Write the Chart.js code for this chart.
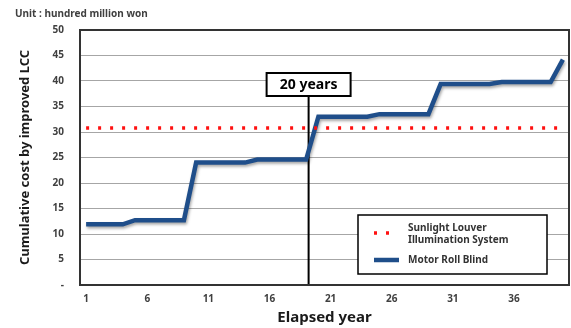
<!DOCTYPE html>
<html>
<head>
<meta charset="utf-8">
<script src="https://cdn.jsdelivr.net/npm/chart.js@4"></script>
<style>
  html, body { margin: 0; padding: 0; background: #fff; }
  #wrap { width: 571px; height: 328px; }
</style>
</head>
<body>
<div id="wrap"><canvas id="lcc-chart" width="571" height="328"></canvas></div>
<script>
// elapsed years 1..40
var years = [];
for (var y = 1; y <= 40; y++) years.push(String(y));

var louverLabel = "Sunlight Louver Illumination System";
var louverCost = [30.8, 30.8, 30.8, 30.8, 30.8, 30.8, 30.8, 30.8, 30.8, 30.8,
                  30.8, 30.8, 30.8, 30.8, 30.8, 30.8, 30.8, 30.8, 30.8, 30.8,
                  30.8, 30.8, 30.8, 30.8, 30.8, 30.8, 30.8, 30.8, 30.8, 30.8,
                  30.8, 30.8, 30.8, 30.8, 30.8, 30.8, 30.8, 30.8, 30.8, 30.8];

var blindLabel = "Motor Roll Blind";
var blindCost = [11.9, 11.9, 11.9, 11.9, 12.7, 12.7, 12.7, 12.7, 12.7, 24.0,
                 24.0, 24.0, 24.0, 24.0, 24.6, 24.6, 24.6, 24.6, 24.6, 33.0,
                 33.0, 33.0, 33.0, 33.0, 33.5, 33.5, 33.5, 33.5, 33.5, 39.4,
                 39.4, 39.4, 39.4, 39.4, 39.8, 39.8, 39.8, 39.8, 39.8, 44.2];

var markerYear = 19.2;          // where the "20 years" line sits
var markerText = "20 years";
var unitText = "Unit : hundred million won";

var FONT = "'Noto Sans', 'DejaVu Sans', sans-serif";

// frame, unit note, 20-year marker and legend box
var decorations = {
    id: "decorations",
    beforeDatasetsDraw(chart) {
        var ctx = chart.ctx;
        var xs = chart.scales.x;
        var area = chart.chartArea;
        var i = Math.floor(markerYear) - 1;
        var p0 = xs.getPixelForValue(i);
        var p1 = xs.getPixelForValue(i + 1);
        var mx = p0 + (markerYear - 1 - i) * (p1 - p0);
        ctx.save();
        ctx.strokeStyle = "#000";
        ctx.lineWidth = 2;
        ctx.beginPath();
        ctx.moveTo(mx, 90);
        ctx.lineTo(mx, area.bottom);
        ctx.stroke();
        ctx.restore();
        chart.$markerX = mx;
    },
    beforeDatasetDraw(chart, args) {
        if (args.index === 1) {
            var ctx = chart.ctx;
            ctx.save();
            ctx.shadowColor = "rgba(0,0,0,0.35)";
            ctx.shadowBlur = 3;
            ctx.shadowOffsetX = 1;
            ctx.shadowOffsetY = 2;
        }
    },
    afterDatasetDraw(chart, args) {
        if (args.index === 1) chart.ctx.restore();
    },
    afterDraw(chart) {
        var ctx = chart.ctx;
        var area = chart.chartArea;
        ctx.save();

        // plot frame
        ctx.strokeStyle = "#333";
        ctx.lineWidth = 2;
        ctx.strokeRect(area.left, area.top, area.right - area.left, area.bottom - area.top);

        // unit note
        ctx.fillStyle = "#404040";
        ctx.font = "bold 10px " + FONT;
        ctx.textBaseline = "middle";
        ctx.textAlign = "left";
        ctx.fillText(unitText, 15, 14);

        // "20 years" box
        var mx = chart.$markerX;
        ctx.font = "bold 14px " + FONT;
        var bw = 84, bh = 23;
        ctx.fillStyle = "#fff";
        ctx.fillRect(mx - bw / 2, 73, bw, bh);
        ctx.strokeStyle = "#000";
        ctx.lineWidth = 2;
        ctx.strokeRect(mx - bw / 2, 73, bw, bh);
        ctx.fillStyle = "#000";
        ctx.textAlign = "center";
        ctx.fillText(markerText, mx, 85);

        // legend box
        var lx = 358, ly = 215, lw = 189, lh = 59;
        ctx.fillStyle = "#fff";
        ctx.fillRect(lx, ly, lw, lh);
        ctx.strokeStyle = "#000";
        ctx.lineWidth = 1.5;
        ctx.strokeRect(lx, ly, lw, lh);

        var ds = chart.data.datasets;
        ctx.lineWidth = ds[0].borderWidth;
        ctx.strokeStyle = ds[0].borderColor;
        ctx.setLineDash(ds[0].borderDash);
        ctx.beginPath();
        ctx.moveTo(374, 233);
        ctx.lineTo(398, 233);
        ctx.stroke();
        ctx.setLineDash([]);

        ctx.lineWidth = ds[1].borderWidth;
        ctx.strokeStyle = ds[1].borderColor;
        ctx.beginPath();
        ctx.moveTo(374, 260);
        ctx.lineTo(399, 260);
        ctx.stroke();

        ctx.fillStyle = "#333";
        ctx.font = "bold 10px " + FONT;
        ctx.textAlign = "left";
        ctx.fillText("Sunlight Louver", 408, 228);
        ctx.fillText("Illumination System", 408, 240);
        ctx.fillText(ds[1].label, 408, 260);
        ctx.restore();
    }
};

var ctx = document.getElementById("lcc-chart").getContext("2d");
var chart = new Chart(ctx, {
    type: "line",
    data: {
        labels: years,
        datasets: [
            {
                label: louverLabel,
                data: louverCost,
                borderColor: "#ff1010",
                borderWidth: 3.5,
                borderDash: [3, 9],
                pointRadius: 0,
                fill: false,
            },
            {
                label: blindLabel,
                data: blindCost,
                borderColor: "#1f4e8a",
                borderWidth: 4.5,
                pointRadius: 0,
                fill: false,
                tension: 0,
            },
        ],
    },
    options: {
        responsive: false,
        animation: false,
        layout: { padding: { top: 30, right: 2, bottom: 0, left: 0 } },
        plugins: {
            legend: { display: false },
            tooltip: { enabled: false },
        },
        scales: {
            x: {
                offset: true,
                afterFit: (s) => { s.height = 43; },
                grid: { display: false, drawTicks: false },
                border: { display: false },
                ticks: {
                    autoSkip: false,
                    maxRotation: 0,
                    padding: 8,
                    color: "#404040",
                    font: { family: FONT, size: 10, weight: "bold" },
                    callback: function (v, i) { return i % 5 === 0 ? this.getLabelForValue(v) : ""; },
                },
                title: {
                    display: true,
                    text: "Elapsed year",
                    color: "#1a1a1a",
                    font: { family: FONT, size: 15, weight: "bold" },
                    padding: { top: 0, bottom: 1 },
                },
            },
            y: {
                min: 0,
                max: 50,
                afterFit: (s) => { s.width = 80; },
                grid: { color: "#a6a6a6", lineWidth: 1, drawTicks: false },
                border: { display: false },
                ticks: {
                    stepSize: 5,
                    padding: 16,
                    color: "#404040",
                    font: { family: FONT, size: 10, weight: "bold" },
                    callback: (v) => v === 0 ? "-" : v,
                },
                title: {
                    display: true,
                    text: "Cumulative cost by improved LCC",
                    color: "#1a1a1a",
                    font: { family: FONT, size: 13, weight: "bold" },
                    padding: { top: 17, bottom: 0 },
                },
            },
        },
    },
    plugins: [decorations],
});
</script>
</body>
</html>
